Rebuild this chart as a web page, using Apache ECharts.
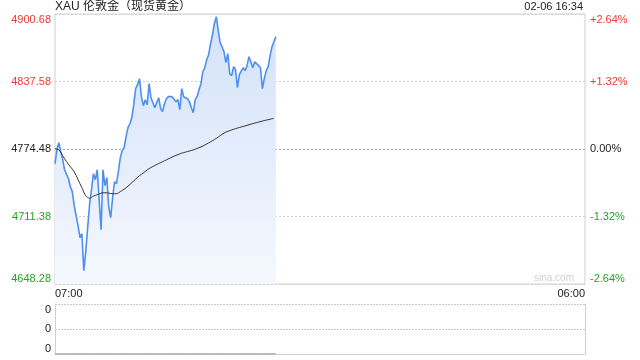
<!DOCTYPE html>
<html><head><meta charset="utf-8">
<script src="https://cdn.jsdelivr.net/npm/echarts@6/dist/echarts.min.js"></script>
<style>html,body{margin:0;padding:0;background:#fff}#c{width:640px;height:360px}</style>
</head><body><div id="c"></div>
<script>
const chartTitle = 'XAU 伦敦金（现货黄金）';
const stamp = '02-06 16:34';
const prevClose = 4774.48;
const priceTicks = [4648.28, 4711.38, 4774.48, 4837.58, 4900.68];
const pctTicks = ['-2.64%', '-1.32%', '0.00%', '+1.32%', '+2.64%'];
const timeLabels = ['07:00', '06:00'];
const sessionMinutes = 1380;
const priceStepMin = 5;
const prices = [
4760.7,4773.8,4780.4,4772.0,4764.5,4755.1,4753.3,4746.7,4739.2,4734.6,
4721.5,4712.1,4702.8,4691.6,4695.3,4660.7,4678.5,4700.9,4722.4,4736.4,
4751.4,4745.8,4755.1,4753.3,4699.0,4755.1,4740.2,4747.7,4719.6,4710.3,
4729.0,4743.9,4742.0,4753.3,4766.4,4772.9,4775.7,4786.0,4794.4,4798.1,
4803.7,4815.9,4830.9,4834.6,4840.2,4823.4,4815.0,4820.6,4815.9,4835.5,
4822.4,4820.6,4813.1,4817.8,4822.4,4812.2,4809.4,4816.8,4821.5,4823.4,
4824.3,4823.4,4824.3,4818.7,4820.6,4811.2,4830.9,4823.4,4822.4,4821.5,
4818.7,4813.1,4808.4,4820.6,4823.4,4829.9,4835.5,4846.7,4850.5,4858.0,
4862.6,4872.9,4881.3,4891.6,4898.2,4885.1,4873.9,4870.1,4865.4,4855.2,
4863.6,4844.9,4843.0,4851.4,4848.6,4831.8,4843.9,4843.0,4850.5,4847.7,
4852.4,4860.8,4856.1,4850.5,4856.1,4857.0,4852.4,4850.5,4830.9,4840.2,
4847.7,4851.4,4861.7,4870.1,4874.8,4879.5
];
const avgStepMin = 10;
const avgPrices = [
4774.8,4773.8,4768.2,4762.6,4757.9,4753.3,4745.8,4738.3,4730.8,4728.5,
4730.4,4731.8,4733.2,4733.6,4733.2,4732.7,4732.7,4734.6,4736.9,4739.7,
4743.0,4746.3,4749.5,4752.1,4754.9,4757.2,4759.1,4760.9,4762.6,4764.3,
4766.1,4767.8,4769.2,4770.6,4771.6,4772.6,4773.6,4775.0,4776.4,4778.2,
4780.2,4782.2,4784.5,4786.9,4789.4,4791.0,4792.3,4793.5,4794.6,4795.6,
4796.6,4797.7,4798.7,4799.6,4800.6,4801.5,4802.3,4803.2
];
const volStepMin = 5;
const volumes = [
0,0,0,0,0,0,0,0,0,0,0,0,0,0,0,0,0,0,0,0,0,0,0,0,0,0,0,0,0,0,
0,0,0,0,0,0,0,0,0,0,0,0,0,0,0,0,0,0,0,0,0,0,0,0,0,0,0,0,0,0,
0,0,0,0,0,0,0,0,0,0,0,0,0,0,0,0,0,0,0,0,0,0,0,0,0,0,0,0,0,0,
0,0,0,0,0,0,0,0,0,0,0,0,0,0,0,0,0,0,0,0,0,0,0,0,0,0
];
const volTickLabels = ['0', '0', '0'];

const half = priceTicks[4] - prevClose;
const step = priceTicks[3] - priceTicks[2];
const RED = '#f03a32', GREEN = '#23a523', DARK = '#222';
const FONT = 'Arial, "Liberation Sans", "Noto Sans CJK SC", sans-serif';
function idxOf(v) { return Math.round(v / step) + 2; }
function tickColor(v) { const i = idxOf(v); return i > 2 ? RED : (i < 2 ? GREEN : DARK); }

const chart = echarts.init(document.getElementById('c'), null, { renderer: 'canvas' });
chart.setOption({
  animation: false,
  backgroundColor: '#fff',
  textStyle: { fontFamily: FONT },
  title: [
    { text: chartTitle, left: 55, top: 1, padding: 0, textStyle: { fontSize: 12, fontWeight: 'normal', color: DARK, fontFamily: FONT } },
    { text: stamp, right: 57, top: 1, padding: 0, textStyle: { fontSize: 11, fontWeight: 'normal', color: DARK, fontFamily: FONT } }
  ],
  graphic: [
    { type: 'text', right: 66, top: 273, style: { text: 'sina.com', fill: '#d0d0d0', font: '10px ' + FONT } }
  ],
  grid: [
    { left: 55, right: 55, top: 14, height: 270, show: true, borderColor: '#d0d0d0', borderWidth: 1, outerBoundsMode: 'none' },
    { left: 55, right: 55, top: 304, height: 50, show: false, outerBoundsMode: 'none' }
  ],
  xAxis: [
    { type: 'value', gridIndex: 0, min: 0, max: sessionMinutes, interval: sessionMinutes,
      axisLine: { show: false }, axisTick: { show: false }, splitLine: { show: false },
      axisLabel: { show: true, margin: 4, fontSize: 11, color: DARK, alignMinLabel: 'left', alignMaxLabel: 'right',
        formatter: (v) => v === 0 ? timeLabels[0] : timeLabels[1] } },
    { type: 'value', gridIndex: 1, min: 0, max: sessionMinutes, interval: sessionMinutes,
      axisLine: { show: true, onZero: false, lineStyle: { color: '#d0d0d0' } }, axisTick: { show: false },
      splitLine: { show: false }, axisLabel: { show: false } }
  ],
  yAxis: [
    { type: 'value', gridIndex: 0, min: -half, max: half, interval: step, position: 'left',
      axisLine: { show: false }, axisTick: { show: false },
      splitLine: { show: true, lineStyle: { type: [2, 2], color: ['#d0d0d0', '#d0d0d0', '#a8a8a8', '#d0d0d0', '#d0d0d0'] } },
      axisLabel: { margin: 4, fontSize: 11, color: tickColor, verticalAlignMinLabel: 'bottom', verticalAlignMaxLabel: 'top',
        formatter: (v) => priceTicks[idxOf(v)].toFixed(2) } },
    { type: 'value', gridIndex: 0, min: -half, max: half, interval: step, position: 'right',
      axisLine: { show: false }, axisTick: { show: false }, splitLine: { show: false },
      axisLabel: { margin: 5, fontSize: 11, color: tickColor, verticalAlignMinLabel: 'bottom', verticalAlignMaxLabel: 'top',
        formatter: (v) => pctTicks[idxOf(v)] } },
    { type: 'value', gridIndex: 1, min: 0, max: 2, interval: 1, position: 'left',
      axisLine: { show: true, lineStyle: { color: '#d0d0d0' } }, axisTick: { show: false },
      splitLine: { show: true, lineStyle: { type: [2, 1], color: '#c8c8c8' } },
      axisLabel: { margin: 4, fontSize: 11, color: DARK, verticalAlignMinLabel: 'bottom', verticalAlignMaxLabel: 'top',
        formatter: (v, i) => volTickLabels[i] || '0' } },
    { type: 'value', gridIndex: 1, min: 0, max: 2, interval: 1, position: 'right',
      axisLine: { show: true, lineStyle: { color: '#d0d0d0' } }, axisTick: { show: false },
      splitLine: { show: false }, axisLabel: { show: false } }
  ],
  series: [
    { type: 'line', xAxisIndex: 0, yAxisIndex: 0, symbol: 'none', silent: true,
      data: prices.map((p, i) => [i * priceStepMin, p - prevClose]),
      lineStyle: { color: '#4f8ff0', width: 1.6 },
      areaStyle: { origin: 'start', opacity: 1, color: new echarts.graphic.LinearGradient(0, 0, 0, 1, [
        { offset: 0, color: '#d2e1f9' }, { offset: 1, color: '#f5f8fe' }]) } },
    { type: 'line', xAxisIndex: 0, yAxisIndex: 0, symbol: 'none', silent: true, smooth: 0.3,
      data: avgPrices.map((p, i) => [i * avgStepMin, p - prevClose]),
      lineStyle: { color: '#333', width: 1 } },
    { type: 'line', xAxisIndex: 1, yAxisIndex: 2, symbol: 'none', silent: true,
      data: volumes.map((v, i) => [i * volStepMin, v]),
      lineStyle: { color: '#777', width: 1 } }
  ]
});
</script></body></html>
